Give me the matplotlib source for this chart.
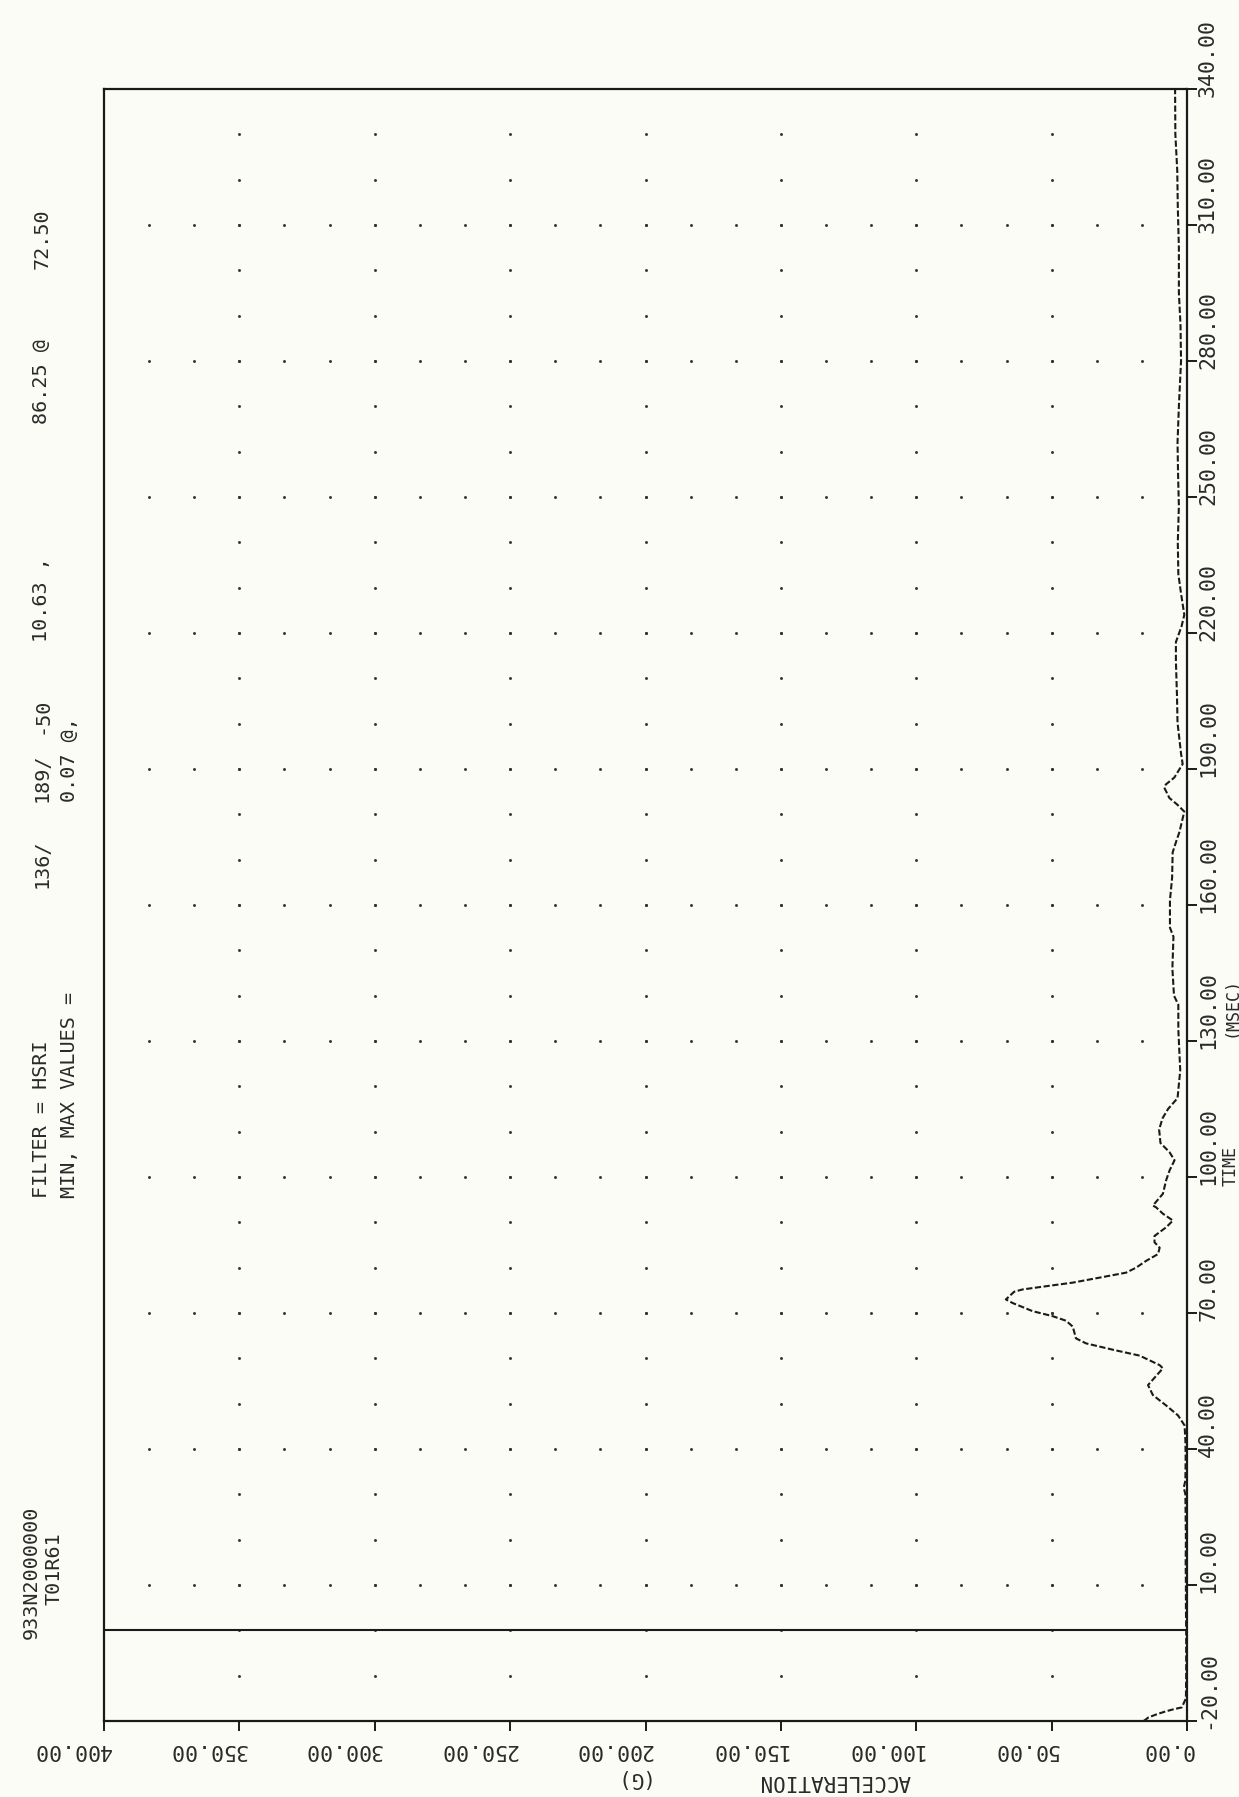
import numpy as np
import matplotlib
matplotlib.use("Agg")
import matplotlib.pyplot as plt
from matplotlib.transforms import blended_transform_factory

# ---- trace: time (ms) vs acceleration (G) ----
time_ms = [-20.0, -19.2, -18.5, -17.9, -17.4, -17.0, -15.0,
           -10.0, -5.0, 0.0, 5.0, 10.0, 15.0, 20.0, 25.0, 30.0, 31.5, 33.0, 38.0, 42.0,
           45.2, 47.4, 49.6, 51.9, 54.1, 57.8, 58.5, 60.6, 61.9, 63.3, 64.4, 67.0, 68.3,
           69.3, 70.4, 72.2, 73.0,
           74.7, 75.2, 75.9, 76.7, 77.8, 78.9, 80.0, 81.5, 83.0, 84.4, 85.6, 87.0, 88.9,
           90.4, 91.9, 93.3, 93.7, 96.3, 99.3, 101.5, 103.7,
           105.5, 107.5, 110.5, 113.0, 115.0, 117.4, 123.5, 132.5, 138.0, 140.0, 146.0,
           153.0, 155.0, 161.0, 166.0, 171.6, 174.0, 176.1, 179.1, 180.6,
           182.1, 183.6, 185.9, 186.6, 188.1, 191.1, 193.4, 200.2, 206.2, 213.7, 218.0,
           221.5, 224.0, 228.7, 233.0, 240.0, 248.0, 255.0, 262.0, 270.0, 280.0, 288.0,
           295.0, 305.0, 314.0, 322.0, 330.0, 340.0]
accel_g = [16.0, 14.2, 11.1, 8.0, 4.9, 1.9, 0.4,
           0.3, 0.3, 0.3, 0.4, 0.4, 0.5, 0.4, 0.5, 0.6, 1.2, 0.6, 0.5, 0.6,
           0.9, 3.3, 7.7, 12.6, 14.4, 8.9, 10.1, 17.5, 27.4, 37.3, 41.0, 42.2, 44.7,
           49.6, 57.0, 64.4, 66.9,
           63.8, 60.7, 52.1, 42.2, 32.3, 22.5, 18.8, 15.1, 10.7, 10.1, 12.0, 12.0, 7.7,
           5.2, 8.9, 11.4, 12.6, 8.9, 7.7, 6.4, 4.6,
           6.5, 9.8, 10.3, 9.0, 7.0, 3.5, 2.5, 3.2, 3.2, 4.8, 5.4,
           5.0, 6.3, 6.3, 5.5, 5.3, 4.0, 2.8, 1.6, 1.0,
           3.5, 6.5, 8.4, 7.8, 4.7, 1.6, 2.2, 3.5, 3.7, 4.1, 4.1,
           2.0, 1.0, 2.2, 3.2, 3.4, 3.0, 3.3, 3.5, 3.0, 2.2, 2.4,
           3.0, 3.0, 3.4, 3.6, 4.3, 4.4]

time_ticks = [-20, 10, 40, 70, 100, 130, 160, 190, 220, 250, 280, 310, 340]
time_tick_labels = ["-20.00", "10.00", "40.00", "70.00", "100.00", "130.00", "160.00",
                    "190.00", "220.00", "250.00", "280.00", "310.00", "340.00"]
accel_ticks = [0, 50, 100, 150, 200, 250, 300, 350, 400]
accel_tick_labels = ["0.00", "50.00", "100.00", "150.00", "200.00", "250.00",
                     "300.00", "350.00", "400.00"]

header_id = "933N2000000"
header_run = "T01R61"
filter_parts = ["FILTER = HSRI", "136/", "189/", "-50"]
minmax_label = "MIN, MAX VALUES ="
minmax_parts = ["0.07 @,", "10.63 ,", "86.25 @", "72.50"]

# ---- page geometry (pixels) ----
W, H = 1239, 1797
BG = "#fcfcf6"
INK = "#1a1a1a"
TXT = "#2a2a2a"
FONT = "DejaVu Sans Mono"

left_px, right_px, top_px, bottom_px = 104, 1187, 89, 1721

fig = plt.figure(figsize=(W / 100, H / 100), dpi=100, facecolor=BG)
ax = fig.add_axes([left_px / W, 1 - bottom_px / H,
                   (right_px - left_px) / W, (bottom_px - top_px) / H])
ax.set_facecolor(BG)
ax.set_xlim(400, 0)
ax.set_ylim(-20, 340)

for s in ax.spines.values():
    s.set_color(INK)
    s.set_linewidth(1.6)

ax.yaxis.tick_right()
ax.set_yticks(time_ticks)
ax.set_xticks(accel_ticks)
ax.tick_params(axis="both", direction="out", length=7, width=1.4, color=INK,
               labelbottom=False, labelright=False, labelleft=False)

# dotted grid: horizontal rows at each time tick, vertical columns at each accel tick
inner_t = np.array(time_ticks[1:-1], dtype=float)
inner_a = np.array(accel_ticks[1:-1], dtype=float)
row_a = np.arange(1, 24) * (50.0 / 3.0)
col_t = np.arange(-10, 340, 10, dtype=float)
ra, rt = np.meshgrid(row_a, inner_t)
ca, ct = np.meshgrid(inner_a, col_t)
ax.scatter(np.concatenate([ra.ravel(), ca.ravel()]),
           np.concatenate([rt.ravel(), ct.ravel()]),
           s=4.5, color="#333333", linewidths=0, zorder=2)

# time-zero marker
ax.axhline(0, color=INK, lw=1.5, zorder=3)

# acceleration trace
ax.plot(accel_g, time_ms, color=INK, lw=1.5, linestyle=(0, (3.0, 1.2)),
        zorder=4, clip_on=True)

# tick labels
ty = blended_transform_factory(fig.transFigure, ax.transData)
for t, lab in zip(time_ticks, time_tick_labels):
    ax.text(1208 / W, t - 1.8, lab, transform=ty, rotation=90, ha="center",
            va="bottom", fontsize=15.5, family=FONT, color=TXT)

tx = blended_transform_factory(ax.transData, fig.transFigure)
for a, lab in zip(accel_ticks, accel_tick_labels):
    ax.text(a - 2.5, 1 - 1750 / H, lab, transform=tx, rotation=180, ha="right",
            va="center", fontsize=15.5, family=FONT, color=TXT)

# axis titles
fig.text(911 / W, 1 - 1781 / H, "ACCELERATION", rotation=180, ha="right",
         va="center", fontsize=15, family=FONT, color=TXT)
fig.text(648 / W, 1 - 1778 / H, "(G)", rotation=180, ha="right",
         va="center", fontsize=15, family=FONT, color=TXT)
fig.text(1231 / W, 1 - 1186 / H, "TIME", rotation=90, ha="center",
         va="bottom", fontsize=12, family=FONT, color=TXT)
fig.text(1231 / W, 1 - 1037 / H, "(MSEC)", rotation=90, ha="center",
         va="bottom", fontsize=12, family=FONT, color=TXT)

# header block
def header(x_px, y_px, s):
    fig.text(x_px / W, 1 - y_px / H, s, rotation=90, ha="center", va="bottom",
             fontsize=14.5, family=FONT, color=TXT)

header(31, 1639, header_id)
header(54, 1605, header_run)
header(42, 1198, filter_parts[0])
header(42, 888, filter_parts[1])
header(42, 802, filter_parts[2])
header(42, 734, filter_parts[3])
header(69, 1198, minmax_label)
header(69, 802, minmax_parts[0])
header(42, 642, minmax_parts[1])
header(42, 424, minmax_parts[2])
header(42, 269, minmax_parts[3])

fig.savefig("out.png", dpi=100, facecolor=BG)
